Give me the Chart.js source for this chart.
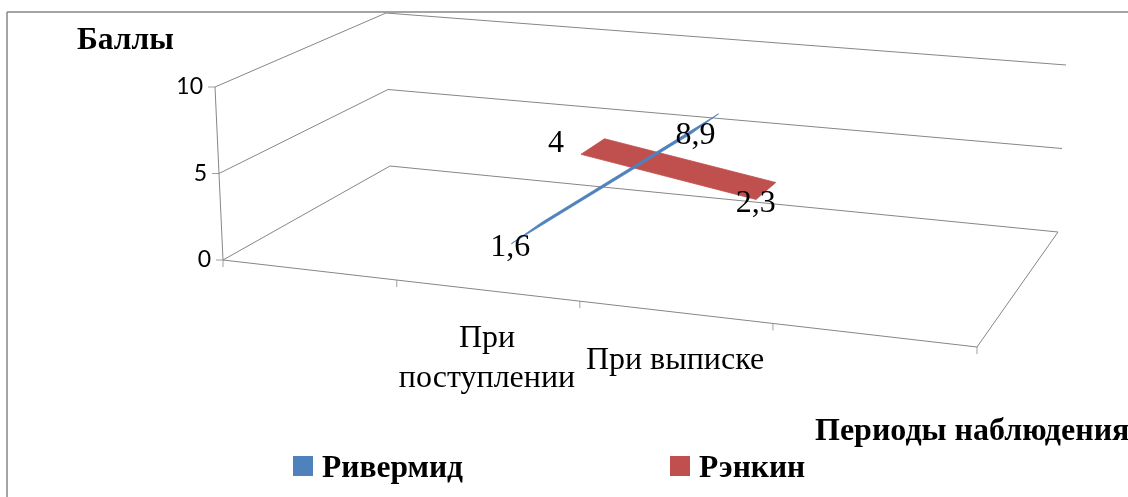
<!DOCTYPE html>
<html>
<head>
<meta charset="utf-8">
<title>Баллы</title>
<script src="https://cdn.jsdelivr.net/npm/chart.js@4"></script>
<style>
html, body { margin: 0; padding: 0; background: #fff; overflow: hidden; }
#wrap { width: 1128px; height: 497px; }
</style>
</head>
<body>
<div id="wrap"><canvas id="chart"></canvas></div>
<script>
// Data
const categories = ['', 'При поступлении', 'При выписке', ''];
const categoryLines = [[], ['При', 'поступлении'], ['При выписке'], []];
const seriesNames = ['Ривермид', 'Рэнкин'];
const rivermid = [null, 1.6, 8.9, null];
const rankin = [null, 4, 2.3, null];
const valueTicks = [0, 5, 10];
const valueLabels = ['0', '5', '10'];
const valueMax = 10;

const seriesColors = ['#4f81bd', '#c0504d'];
const gridColor = '#868686';
const serif = '"Liberation Serif", "Times New Roman", serif';

// 3D box of the chart as it lands on the page (floor and top, order: FL, FR, BR, BL)
const floorQuad = [[223, 260], [977, 347], [1058, 232], [390, 166]];
const topQuad = [[215, 87], [984, 160], [1066, 65], [386, 13]];
const rowDepths = [[0.165, 0.375], [0.665, 0.845]];

// unit square -> quad (perspective)
function homography(q) {
    const [[x0, y0], [x1, y1], [x2, y2], [x3, y3]] = q;
    const dx1 = x1 - x2, dx2 = x3 - x2, sx = x0 - x1 + x2 - x3;
    const dy1 = y1 - y2, dy2 = y3 - y2, sy = y0 - y1 + y2 - y3;
    const den = dx1 * dy2 - dx2 * dy1;
    const g = (sx * dy2 - dx2 * sy) / den;
    const h = (dx1 * sy - sx * dy1) / den;
    return (u, v) => {
        const w = g * u + h * v + 1;
        return [
            ((x1 - x0 + g * x1) * u + (x3 - x0 + h * x3) * v + x0) / w,
            ((y1 - y0 + g * y1) * u + (y3 - y0 + h * y3) * v + y0) / w
        ];
    };
}
const floorAt = homography(floorQuad);
const topAt = homography(topQuad);

// u: position along categories (0..1), d: depth (0..1), z: value
function project(u, d, z) {
    const a = floorAt(u, d), b = topAt(u, d), t = z / valueMax;
    return { x: a[0] + (b[0] - a[0]) * t, y: a[1] + (b[1] - a[1]) * t };
}

const catU = i => (i + 0.5) / categories.length;

function ribbon(values, row) {
    const pts = [];
    const idx = values.map((v, i) => v === null ? -1 : i).filter(i => i >= 0);
    idx.forEach(i => pts.push(project(catU(i), rowDepths[row][0], values[i])));
    idx.slice().reverse().forEach(i => pts.push(project(catU(i), rowDepths[row][1], values[i])));
    pts.push(pts[0]);
    return pts;
}

function gridDataset(points) {
    return { data: points, borderColor: gridColor, borderWidth: 1, showLine: true, pointRadius: 0, clip: false };
}

const gridSets = [];
valueTicks.forEach(v => {
    gridSets.push(gridDataset([project(0, 0, v), project(0, 1, v), project(1, 1, v)]));
});
gridSets.push(gridDataset([project(0, 0, 0), project(1, 0, 0), project(1, 1, 0)]));
gridSets.push(gridDataset([project(0, 0, 0), project(0, 0, valueMax)]));

function seriesDataset(values, row) {
    return {
        label: seriesNames[row],
        data: ribbon(values, row),
        showLine: true,
        fill: 'shape',
        backgroundColor: seriesColors[row],
        borderColor: seriesColors[row],
        borderWidth: 0.8,
        pointRadius: 0,
        clip: false
    };
}

// Data label offsets from the point they belong to
const labelOffsets = [[[-1, 4], [-23, 22]], [[-25, -11], [-20, 21]]];

const box3d = {
    id: 'box3d',
    beforeDatasetsDraw(chart) {
        const { ctx, scales: { x, y } } = chart;
        const line = (a, b) => {
            ctx.beginPath();
            ctx.moveTo(x.getPixelForValue(a.x), y.getPixelForValue(a.y));
            ctx.lineTo(x.getPixelForValue(b.x), y.getPixelForValue(b.y));
            ctx.stroke();
        };
        ctx.save();
        ctx.strokeStyle = gridColor;
        ctx.lineWidth = 1.5;
        line({ x: 7, y: 497 }, { x: 7, y: 12 });
        line({ x: 7, y: 12 }, { x: 1128, y: 12 });
        ctx.lineWidth = 1;
        ctx.strokeStyle = '#a0a0a0';
        // ticks
        for (let i = 0; i <= categories.length; i++) {
            const p = project(i / categories.length, 0, 0);
            line(p, { x: p.x, y: p.y + 7 });
        }
        valueTicks.forEach(v => {
            const p = project(0, 0, v);
            line(p, { x: p.x - 7, y: p.y });
        });
        ctx.restore();
    },
    afterDatasetsDraw(chart) {
        const { ctx, scales: { x, y } } = chart;
        const text = (s, px, py) => ctx.fillText(s, x.getPixelForValue(px), y.getPixelForValue(py));
        ctx.save();
        ctx.fillStyle = '#000';
        ctx.textBaseline = 'middle';

        // value axis
        ctx.font = '23px Lato';
        ctx.textAlign = 'right';
        valueTicks.forEach((v, i) => {
            const p = project(0, 0, v);
            text(valueLabels[i], p.x - 12, p.y);
        });

        // category labels
        ctx.font = '32px ' + serif;
        ctx.textAlign = 'center';
        const catLabelX = [0, 487, 675, 0], catLabelY = [0, 339, 361, 0];
        categoryLines.forEach((lines, i) => {
            lines.forEach((s, k) => text(s, catLabelX[i], catLabelY[i] + k * 40));
        });

        // data labels
        [rivermid, rankin].forEach((values, row) => {
            values.filter(v => v !== null).forEach((v, k) => {
                const p = project(catU(k + 1), rowDepths[row][k], v);
                const off = labelOffsets[row][k];
                text(String(v).replace('.', ','), p.x + off[0], p.y + off[1]);
            });
        });

        // axis titles
        ctx.font = 'bold 31.5px ' + serif;
        ctx.textAlign = 'left';
        text('Баллы', 77, 41);
        ctx.font = 'bold 32px ' + serif;
        text('Периоды наблюдения', 815, 432);
        ctx.font = 'bold 31.5px ' + serif;

        // legend
        const legendX = [293, 670];
        seriesNames.forEach((name, i) => {
            ctx.fillStyle = seriesColors[i];
            ctx.fillRect(x.getPixelForValue(legendX[i]), y.getPixelForValue(456), 20, 20);
            ctx.fillStyle = '#000';
            text(name, legendX[i] + 29, 469);
        });
        ctx.restore();
    }
};

new Chart(document.getElementById('chart'), {
    type: 'scatter',
    data: {
        datasets: [seriesDataset(rivermid, 0), seriesDataset(rankin, 1), ...gridSets]
    },
    options: {
        responsive: true,
        maintainAspectRatio: false,
        animation: false,
        layout: { padding: 0 },
        plugins: { legend: { display: false }, tooltip: { enabled: false } },
        scales: {
            x: { type: 'linear', display: false, min: 0, max: 1128 },
            y: { type: 'linear', display: false, min: 0, max: 497, reverse: true }
        }
    },
    plugins: [box3d]
});
</script>
</body>
</html>
